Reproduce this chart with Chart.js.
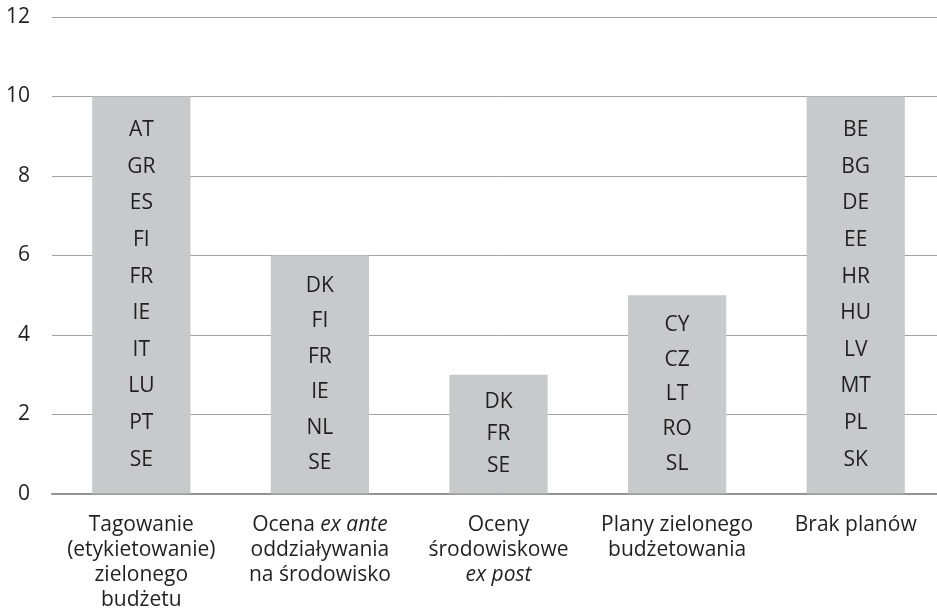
<!DOCTYPE html>
<html>
<head>
<meta charset="utf-8">
<script src="https://cdn.jsdelivr.net/npm/chart.js@4"></script>
<style>
  html, body { margin: 0; padding: 0; background: #fff; overflow: hidden; }
  #wrap { width: 945px; height: 616px; }
</style>
</head>
<body>
<div id="wrap"><canvas id="barChart"></canvas></div>
<script>
// Categories (text between * is italic)
var categories = [
    ["Tagowanie", "(etykietowanie)", "zielonego", "budżetu"],
    ["Ocena *ex ante*", "oddziaływania", "na środowisko"],
    ["Oceny", "środowiskowe", "*ex post*"],
    ["Plany zielonego", "budżetowania"],
    ["Brak planów"]
];
var counts = [10, 6, 3, 5, 10];
var countries = [
    ["AT", "GR", "ES", "FI", "FR", "IE", "IT", "LU", "PT", "SE"],
    ["DK", "FI", "FR", "IE", "NL", "SE"],
    ["DK", "FR", "SE"],
    ["CY", "CZ", "LT", "RO", "SL"],
    ["BE", "BG", "DE", "EE", "HR", "HU", "LV", "MT", "PL", "SK"]
];
var yMax = 12;
var yStep = 2;

var FONT = "'Open Sans', 'Noto Sans', sans-serif";
var SIZE = 21;
var TEXT = "#231f20";

// country codes stacked inside each bar
var barLabels = {
    id: "barLabels",
    afterDatasetsDraw: function (chart) {
        var ctx = chart.ctx;
        var meta = chart.getDatasetMeta(0);
        ctx.save();
        ctx.font = SIZE + "px " + FONT;
        ctx.fillStyle = TEXT;
        ctx.textAlign = "center";
        ctx.textBaseline = "middle";
        meta.data.forEach(function (bar, i) {
            var list = countries[i];
            var h = bar.base - bar.y;
            var lh = Math.min(36.6, h / (list.length + 0.7));
            var mid = (bar.y + bar.base) / 2;
            list.forEach(function (code, k) {
                ctx.fillText(code, bar.x, mid + (k - (list.length - 1) / 2) * lh);
            });
        });
        ctx.restore();
    }
};

// category labels under the axis, with italic parts
var catLabels = {
    id: "catLabels",
    afterDraw: function (chart) {
        var ctx = chart.ctx;
        var x = chart.scales.x;
        var top = chart.chartArea.bottom + 37;
        ctx.save();
        ctx.fillStyle = TEXT;
        ctx.textAlign = "left";
        ctx.textBaseline = "alphabetic";
        categories.forEach(function (lines, i) {
            var cx = x.getPixelForValue(i);
            lines.forEach(function (line, k) {
                var parts = line.split("*").map(function (t, j) {
                    return { text: t, italic: j % 2 === 1 };
                }).filter(function (p) { return p.text.length; });
                var total = 0;
                parts.forEach(function (p) {
                    ctx.font = (p.italic ? "italic " : "") + SIZE + "px " + FONT;
                    p.w = ctx.measureText(p.text).width;
                    total += p.w;
                });
                var px = cx - total / 2;
                var py = top + k * 25;
                parts.forEach(function (p) {
                    ctx.font = (p.italic ? "italic " : "") + SIZE + "px " + FONT;
                    ctx.fillText(p.text, px, py);
                    px += p.w;
                });
            });
        });
        ctx.restore();
    }
};

document.addEventListener("DOMContentLoaded", function () {
    var ctx = document.getElementById("barChart").getContext("2d");

    var barChart = new Chart(ctx, {
        type: "bar",
        data: {
            labels: categories,
            datasets: [
                {
                    data: counts,
                    backgroundColor: "#c8c9cb",
                    borderWidth: 0,
                    barPercentage: 0.55,
                    categoryPercentage: 1.0,
                },
            ],
        },
        options: {
            responsive: true,
            maintainAspectRatio: false,
            animation: false,
            layout: { padding: { top: 17, left: 0, right: 0, bottom: 0 } },
            plugins: {
                legend: { display: false },
                tooltip: { enabled: false },
            },
            scales: {
                x: {
                    ticks: { display: false },
                    grid: { display: false },
                    border: { display: true, color: "#8f8f8f", width: 1.5 },
                    afterFit: function (scale) { scale.height = 122; },
                },
                y: {
                    min: 0,
                    max: yMax,
                    ticks: {
                        stepSize: yStep,
                        padding: 22,
                        color: TEXT,
                        font: { family: FONT, size: SIZE },
                    },
                    grid: { color: "#a3a3a3", lineWidth: 1, drawTicks: false },
                    border: { display: false },
                    afterFit: function (scale) {
                        scale.width = 52;
                        scale.paddingTop = 0;
                        scale.paddingBottom = 0;
                    },
                },
            },
        },
        plugins: [barLabels, catLabels],
    });
});
</script>
</body>
</html>
